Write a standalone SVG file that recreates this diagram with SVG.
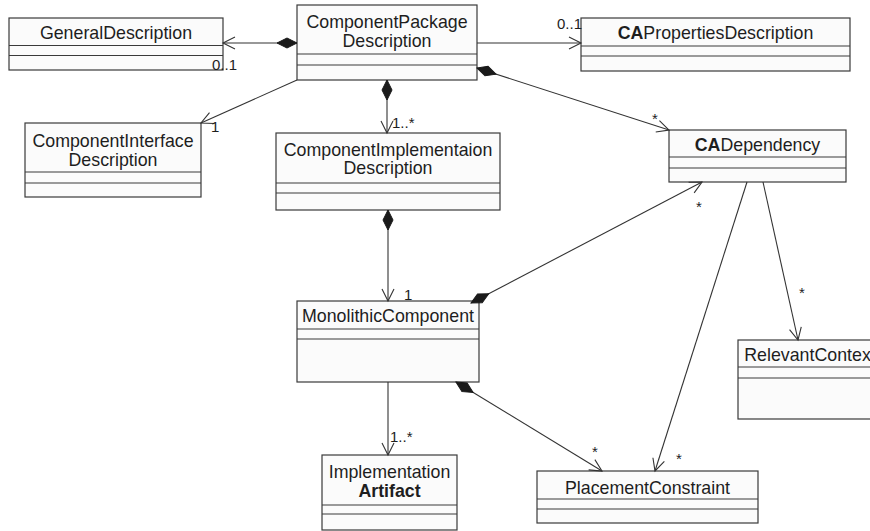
<svg xmlns="http://www.w3.org/2000/svg" width="870" height="531" viewBox="0 0 870 531">
<style>
.box{fill:#fbfbfb;stroke:#3a3a3a;stroke-width:1.2}
.sep{stroke:#3a3a3a;stroke-width:1.2}
.t{font-family:"Liberation Sans",Arial,sans-serif;font-size:17.8px;fill:#1e1e1e;text-anchor:middle}
.m{font-family:"Liberation Sans",Arial,sans-serif;font-size:15px;fill:#1e1e1e}
.c{fill:none;stroke:#333;stroke-width:1.1}
</style>
<defs>
<marker id="arr" markerUnits="userSpaceOnUse" viewBox="-14 -8 16 16" refX="0" refY="0" markerWidth="16" markerHeight="16" orient="auto">
<path d="M-12,-6 L0,0 L-12,6" fill="none" stroke="#333" stroke-width="1.1"/>
</marker>
<marker id="dia" markerUnits="userSpaceOnUse" viewBox="-1 -7 23 14" refX="0" refY="0" markerWidth="23" markerHeight="14" orient="auto">
<path d="M0,0 L10,-5 L20,0 L10,5 Z" fill="#1a1a1a" stroke="#1a1a1a" stroke-width="1"/>
</marker>
</defs>
<rect width="870" height="531" fill="#fff"/>

<g id="GeneralDescription">
<rect class="box" x="9" y="18" width="214" height="52"/>
<line class="sep" x1="9" y1="45.5" x2="223" y2="45.5"/>
<line class="sep" x1="9" y1="55.5" x2="223" y2="55.5"/>
<text class="t" x="116" y="39">GeneralDescription</text>
</g>

<g id="ComponentPackageDescription">
<rect class="box" x="297" y="5" width="180" height="75"/>
<line class="sep" x1="297" y1="54" x2="477" y2="54"/>
<line class="sep" x1="297" y1="65" x2="477" y2="65"/>
<text class="t" x="387" y="27.5">ComponentPackage</text>
<text class="t" x="387" y="47">Description</text>
</g>

<g id="CAPropertiesDescription">
<rect class="box" x="581" y="18" width="269" height="53"/>
<line class="sep" x1="581" y1="46" x2="850" y2="46"/>
<line class="sep" x1="581" y1="56" x2="850" y2="56"/>
<text class="t" x="715.5" y="39"><tspan font-weight="bold">CA</tspan>PropertiesDescription</text>
</g>

<g id="ComponentInterfaceDescription">
<rect class="box" x="25" y="123" width="176" height="74"/>
<line class="sep" x1="25" y1="172" x2="201" y2="172"/>
<line class="sep" x1="25" y1="183" x2="201" y2="183"/>
<text class="t" x="113" y="146.5">ComponentInterface</text>
<text class="t" x="113" y="165.5">Description</text>
</g>

<g id="ComponentImplementaionDescription">
<rect class="box" x="276" y="133" width="224" height="77"/>
<line class="sep" x1="276" y1="183" x2="500" y2="183"/>
<line class="sep" x1="276" y1="193" x2="500" y2="193"/>
<text class="t" x="388" y="155.5">ComponentImplementaion</text>
<text class="t" x="388" y="174">Description</text>
</g>

<g id="CADependency">
<rect class="box" x="669" y="130" width="177" height="52"/>
<line class="sep" x1="669" y1="157" x2="846" y2="157"/>
<line class="sep" x1="669" y1="168" x2="846" y2="168"/>
<text class="t" x="757.5" y="151"><tspan font-weight="bold">CA</tspan>Dependency</text>
</g>

<g id="MonolithicComponent">
<rect class="box" x="297" y="301" width="182" height="81"/>
<line class="sep" x1="297" y1="329" x2="479" y2="329"/>
<line class="sep" x1="297" y1="339" x2="479" y2="339"/>
<text class="t" x="388" y="321.5">MonolithicComponent</text>
</g>

<g id="RelevantContext">
<rect class="box" x="738" y="340" width="143" height="79"/>
<line class="sep" x1="738" y1="367" x2="881" y2="367"/>
<line class="sep" x1="738" y1="378" x2="881" y2="378"/>
<text class="t" x="810" y="361">RelevantContext</text>
</g>

<g id="ImplementationArtifact">
<rect class="box" x="322" y="455" width="135" height="75"/>
<line class="sep" x1="322" y1="505" x2="457" y2="505"/>
<line class="sep" x1="322" y1="514" x2="457" y2="514"/>
<text class="t" x="389.5" y="477.5">Implementation</text>
<text class="t" x="389.5" y="496.5" font-weight="bold">Artifact</text>
</g>

<g id="PlacementConstraint">
<rect class="box" x="537" y="471" width="221" height="52"/>
<line class="sep" x1="537" y1="499" x2="758" y2="499"/>
<line class="sep" x1="537" y1="509" x2="758" y2="509"/>
<text class="t" x="647.5" y="494">PlacementConstraint</text>
</g>

<g id="connectors">
<line class="c" x1="297" y1="43" x2="223" y2="43" marker-start="url(#dia)" marker-end="url(#arr)"/>
<line class="c" x1="477" y1="43" x2="581" y2="43" marker-end="url(#arr)"/>
<line class="c" x1="297" y1="80" x2="201" y2="123" marker-end="url(#arr)"/>
<line class="c" x1="387" y1="80" x2="387" y2="133" marker-start="url(#dia)" marker-end="url(#arr)"/>
<line class="c" x1="477" y1="68" x2="669" y2="130" marker-start="url(#dia)" marker-end="url(#arr)"/>
<line class="c" x1="388" y1="210" x2="388" y2="301" marker-start="url(#dia)" marker-end="url(#arr)"/>
<line class="c" x1="471" y1="303" x2="702" y2="182" marker-start="url(#dia)" marker-end="url(#arr)"/>
<line class="c" x1="456" y1="382" x2="602" y2="471" marker-start="url(#dia)" marker-end="url(#arr)"/>
<line class="c" x1="388" y1="382" x2="388" y2="455" marker-end="url(#arr)"/>
<line class="c" x1="747" y1="182" x2="655" y2="471" marker-end="url(#arr)"/>
<line class="c" x1="763" y1="182" x2="798" y2="340" marker-end="url(#arr)"/>
<text class="m" x="212" y="70">0..1</text>
<text class="m" x="557" y="29">0..1</text>
<text class="m" x="211" y="132">1</text>
<text class="m" x="392" y="128">1..*</text>
<text class="m" x="652" y="124">*</text>
<text class="m" x="404" y="300">1</text>
<text class="m" x="696" y="212">*</text>
<text class="m" x="592" y="457">*</text>
<text class="m" x="390" y="442">1..*</text>
<text class="m" x="676" y="464">*</text>
<text class="m" x="799" y="298">*</text>
</g>
</svg>
